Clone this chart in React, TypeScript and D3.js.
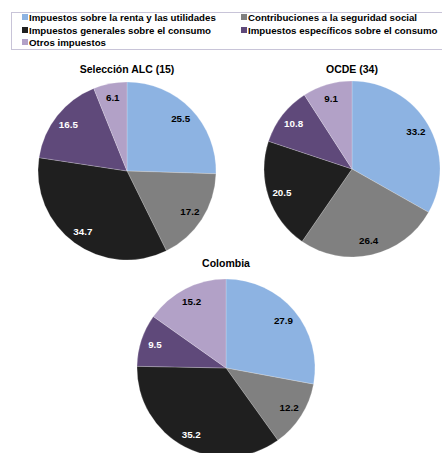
import React from "react";
import * as d3 from "d3";

const categories = [
  "Impuestos sobre la renta y las utilidades",
  "Contribuciones a la seguridad social",
  "Impuestos generales sobre el consumo",
  "Impuestos específicos sobre el consumo",
  "Otros impuestos",
];
const colors = ["#8DB3E2", "#808080", "#1F1F1F", "#5F497A", "#B2A1C7"];
const labelColors = ["#000", "#000", "#fff", "#fff", "#000"];

const alcValues = [25.5, 17.2, 34.7, 16.5, 6.1];
const ocdeValues = [33.2, 26.4, 20.5, 10.8, 9.1];
const colombiaValues = [27.9, 12.2, 35.2, 9.5, 15.2];

const pies = [
  { title: "Selección ALC (15)", values: alcValues, cx: 127, cy: 171, r: 89, ty: 73 },
  { title: "OCDE (34)", values: ocdeValues, cx: 352, cy: 169, r: 88, ty: 73 },
  { title: "Colombia", values: colombiaValues, cx: 226, cy: 368, r: 89, ty: 267 },
];

const legendPos = [
  [22, 17],
  [241, 17],
  [22, 30],
  [241, 30],
  [22, 42],
];

const font = "'Liberation Sans', Arial, sans-serif";

function Pie({ p }: { p: typeof pies[number] }) {
  const gen = d3.pie<number>().sort(null).value((d) => d);
  const arcs = gen(p.values);
  const arc = d3.arc<d3.PieArcDatum<number>>().innerRadius(0).outerRadius(p.r);
  const lab = d3.arc<d3.PieArcDatum<number>>().innerRadius(p.r * 0.84).outerRadius(p.r * 0.84);
  return (
    <g>
      <text x={p.cx} y={p.ty} textAnchor="middle" fontFamily={font} fontWeight="bold" fontSize={10.5} fill="#000">
        {p.title}
      </text>
      <g transform={`translate(${p.cx},${p.cy})`}>
        {arcs.map((a, i) => (
          <path key={i} d={arc(a) || ""} fill={colors[i]} stroke="#ffffff" strokeOpacity={0.35} strokeWidth={0.6} />
        ))}
        {arcs.map((a, i) => {
          const [x, y] = lab.centroid(a);
          return (
            <text key={i} x={x} y={y} dy="0.35em" textAnchor="middle" fontFamily={font} fontWeight="bold" fontSize={9.8} fill={labelColors[i]}>
              {d3.format(".1f")(a.data)}
            </text>
          );
        })}
      </g>
    </g>
  );
}

export default function App() {
  return (
    <svg width={442} height={453} style={{ position: "absolute", left: 0, top: 0, background: "#fff" }}>
      <rect x={11.5} y={12.5} width={440} height={37} fill="#fff" stroke="#C8C4D8" strokeWidth={1} />
      {categories.map((c, i) => (
        <g key={i}>
          <rect x={legendPos[i][0]} y={legendPos[i][1] - 3} width={6} height={6} fill={colors[i]} />
          <text x={legendPos[i][0] + 7} y={legendPos[i][1] + 3.5} fontFamily={font} fontWeight="bold" fontSize={9.7} fill="#000">
            {c}
          </text>
        </g>
      ))}
      {pies.map((p, i) => (
        <Pie key={i} p={p} />
      ))}
    </svg>
  );
}
